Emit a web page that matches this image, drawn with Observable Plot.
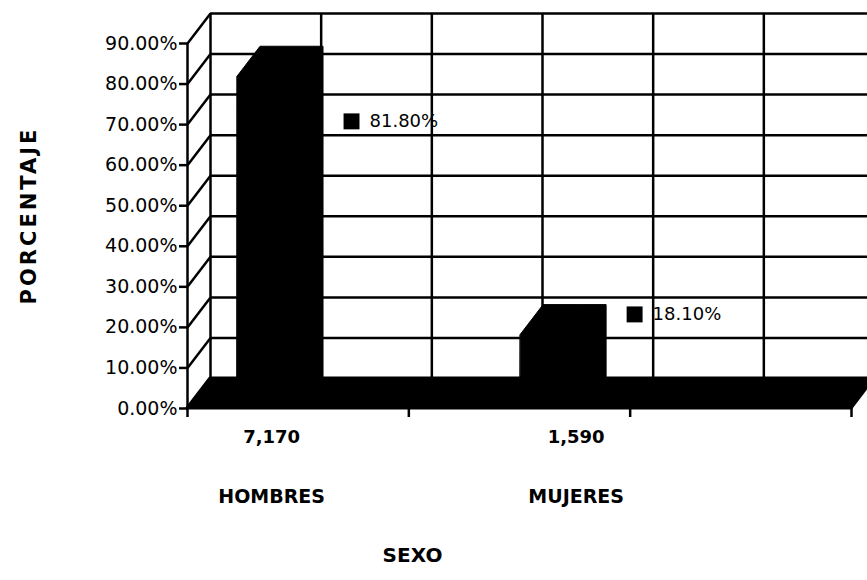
<!DOCTYPE html>
<html>
<head>
<meta charset="utf-8">
<script src="https://cdn.jsdelivr.net/npm/d3@7"></script>
<script src="https://cdn.jsdelivr.net/npm/@observablehq/plot@0.6"></script>
<style>
  body { margin: 0; background: #fff; }
  #chart svg { display: block; }
</style>
</head>
<body>
<div id="chart"></div>
<script>
// ---- data ----
const categories = ["HOMBRES", "MUJERES"];
const counts = ["7,170", "1,590"];
const shares = [0.818, 0.181];
const shareLabels = ["81.80%", "18.10%"];
const yTicks = [0, 0.1, 0.2, 0.3, 0.4, 0.5, 0.6, 0.7, 0.8, 0.9];
const xTitle = "SEXO";
const yTitle = "PORCENTAJE";

// ---- layout ----
const W = 867, H = 580;
const mL = 187, mR = 16, mT = 43, mB = 172;
const xMax = 3, yMax = 0.9;
const pxX = (W - mL - mR) / xMax;
const pxY = (H - mT - mB) / yMax;
const DX = 23 / pxX;          // depth offset (x units)
const DY = 30 / pxY;          // depth offset (y units)
const barW = 63 / pxX;
const barStart = 0.226, barStep = 1.279;
const labelShift = [-0.11, 0.051]; // vertical nudge of data labels
const catLabelX = i => 0.38 + i * 1.376;
const ink = "#000";

const bars = categories.map((c, i) => ({
  cat: c, value: shares[i],
  x1: barStart + i * barStep,
  x2: barStart + i * barStep + barW
}));
const barPts = bars.flatMap(b => [
  {cat: b.cat, x: b.x1, y1: 0, y2: b.value},
  {cat: b.cat, x: b.x1 + DX, y1: 0, y2: b.value + DY},
  {cat: b.cat, x: b.x2, y1: 0, y2: b.value + DY},
  {cat: b.cat, x: b.x2 + DX, y1: DY, y2: b.value + DY}
]);
const floorPts = [
  {x: 0, y1: 0, y2: 0},
  {x: DX, y1: 0, y2: DY},
  {x: xMax, y1: 0, y2: DY},
  {x: xMax + DX, y1: DY, y2: DY}
];
const labels = bars.map((b, i) => ({
  x: b.x2 + DX + 28 / pxX,
  y: b.value + labelShift[i],
  text: shareLabels[i]
}));
const cats = categories.map((c, i) => ({x: catLabelX(i), name: c, count: counts[i]}));
const halfSteps = d3.range(0, xMax + 0.01, 0.5);

const chart = Plot.plot({
  width: W, height: H,
  marginLeft: mL, marginRight: mR, marginTop: mT, marginBottom: mB,
  x: {domain: [0, xMax]},
  y: {domain: [0, yMax]},
  style: {fontFamily: "DejaVu Sans", background: "#fff", color: ink, overflow: "visible"},
  marks: [
    // back wall
    Plot.ruleY(yTicks, {y: d => d + DY, x1: () => DX, x2: () => xMax + DX, stroke: ink, strokeWidth: 2.5}),
    Plot.ruleX(halfSteps, {x: d => d + DX, y1: () => DY, y2: () => yMax + DY, stroke: ink, strokeWidth: 2.5}),
    // left wall
    Plot.link(yTicks, {x1: () => 0, y1: d => d, x2: () => DX, y2: d => d + DY, stroke: ink, strokeWidth: 2.5}),
    Plot.ruleX([0], {y1: () => 0, y2: () => yMax, stroke: ink, strokeWidth: 2.5}),
    // floor
    Plot.areaY(floorPts, {x: "x", y1: "y1", y2: "y2", fill: ink, stroke: ink, strokeWidth: 3}),
    // bars
    Plot.areaY(barPts, {x: "x", y1: "y1", y2: "y2", z: "cat", fill: ink, stroke: ink, strokeWidth: 1}),
    // data labels
    Plot.dot(labels, {x: "x", y: "y", symbol: "square", r: 9, fill: ink}),
    Plot.text(labels, {x: "x", y: "y", text: "text", dx: 18, textAnchor: "start", fontSize: 18, fill: ink}),
    // axes
    Plot.axisY(yTicks, {tickFormat: d3.format(".2%"), tickSize: 8, tickPadding: 2, fontSize: 19, strokeWidth: 2.5, label: null}),
    Plot.axisX([0, 1, 2, 3], {tickSize: 9, tickFormat: () => "", strokeWidth: 2.5, label: null}),
    // category labels
    Plot.text(cats, {x: "x", y: () => 0, text: "count", dy: 29, fontSize: 18, fontWeight: "bold", fill: ink}),
    Plot.text(cats, {x: "x", y: () => 0, text: "name", dy: 88, fontSize: 19, fontWeight: "bold", fill: ink}),
    // axis titles
    Plot.text([xTitle], {x: () => (412 - mL) / pxX, y: () => 0, text: d => d, dy: 147, fontSize: 20, fontWeight: "bold", fill: ink}),
    Plot.text([yTitle], {x: () => 0, y: () => (408 - 215) / pxY, text: d => d, dx: 29 - mL, rotate: -90, fontSize: 21, fontWeight: "bold", fill: ink})
  ]
});
d3.select(chart).selectAll("text").filter(function () { return this.textContent === yTitle; })
  .style("letter-spacing", "3px");
document.getElementById("chart").appendChild(chart);
</script>
</body>
</html>
